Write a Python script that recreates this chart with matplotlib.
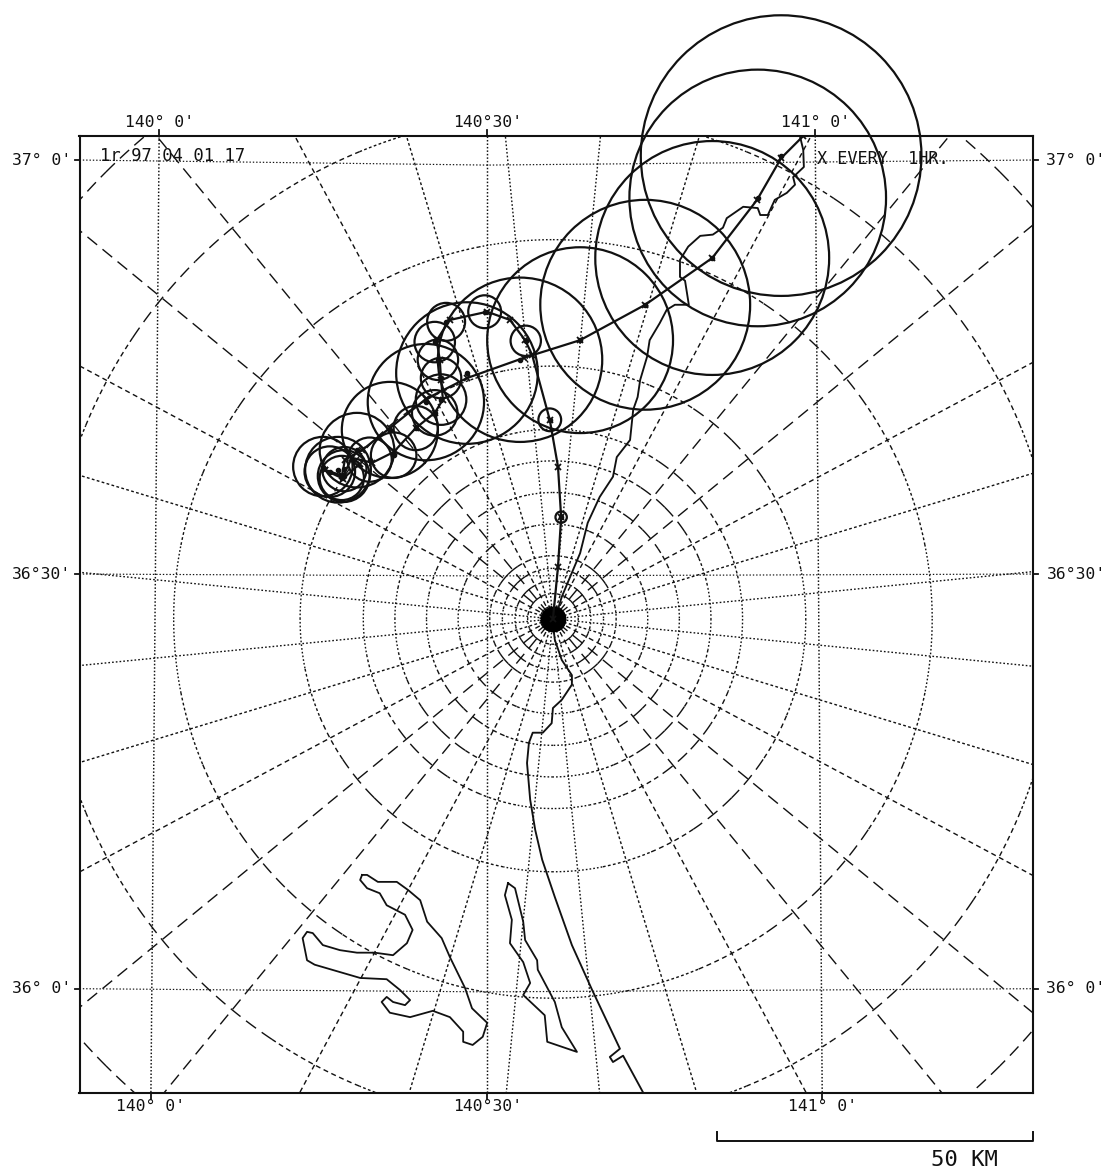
import numpy as np
import matplotlib
matplotlib.use("Agg")
import matplotlib.pyplot as plt
from matplotlib.patches import Circle

# ---- data: everything in km east / north of the radar ----
ring_km = [2, 4, 6, 8, 10, 15, 20, 25, 30, 40, 60, 80, 100]
spoke_start_deg = 5.625
spoke_step_deg = 11.25
spoke_count = 32

lon_labels = ["140\u00b0 0'", "140\u00b030'", "141\u00b0 0'"]
lon_top_x = [-62.3, -10.4, 41.5]
lon_bot_x = [-63.6, -10.4, 42.6]
lat_labels = ["37\u00b0 0'", "36\u00b030'", "36\u00b0 0'"]
lat_edge_y = [72.6, 7.1, -58.5]
lat_mid_y = [71.8, 6.8, -59.0]
lat_mid_x = -10.4

track_a_x = [39.6, 36.1, 32.3, 25.2, 14.6, 4.3, -4.6, -13.6, -20.1, -25.8, -30.2, -32.9, -33.4, -36.0, -33.2, -30.6]
track_a_y = [76.4, 72.9, 66.3, 57.1, 49.7, 44.1, 41.3, 38.1, 34.8, 30.2, 26.7, 25.2, 22.6, 23.5, 22.2, 24.5]
track_b_x = [0.0, 0.8, 1.3, 0.8, -0.5, -3.3, -4.4, -6.8, -10.4, -16.3, -18.4, -17.9, -17.7, -17.4, -18.7, -21.7, -25.2, -28.6, -31.8, -33.2, -36.1]
track_b_y = [0.0, 8.2, 16.1, 24.1, 31.5, 41.8, 44.1, 47.3, 48.6, 47.3, 44.1, 41.0, 37.8, 34.7, 32.6, 30.2, 26.4, 24.7, 25.5, 22.6, 23.6]

cell_a_x = [36.1, 32.4, 25.2, 14.6, 4.3, -5.2, -13.6, -20.1, -25.8, -31.0, -34.0, -36.4, -33.1, -33.4, -35.3]
cell_a_y = [73.3, 66.6, 57.1, 49.7, 44.1, 41.0, 38.9, 34.3, 29.9, 26.7, 23.6, 24.1, 22.6, 22.3, 23.3]
cell_a_r = [22.2, 20.3, 18.5, 16.6, 14.7, 13.0, 11.2, 9.2, 7.6, 5.9, 5.2, 4.7, 4.1, 3.5, 4.0]
cell_b_x = [1.3, -0.5, -4.3, -10.8, -16.9, -18.7, -18.2, -17.7, -17.7, -18.7, -21.7, -25.2, -29.0, -33.0]
cell_b_y = [16.1, 31.5, 44.0, 48.6, 47.0, 43.8, 41.0, 38.1, 34.7, 32.6, 30.2, 25.9, 25.2, 23.7]
cell_b_r = [0.9, 1.8, 2.4, 2.6, 3.0, 3.2, 3.2, 3.2, 4.0, 3.6, 3.5, 3.6, 3.5, 3.5]

coast_x = [39.1, 39.6, 39.7, 38.0, 38.3, 37.0, 35.1, 34.0, 32.8, 32.4, 30.1, 27.5, 26.9, 25.3, 23.3, 21.4, 20.1, 20.1,
           20.9, 21.5, 19.3, 18.0, 16.9, 15.3, 14.9, 13.8, 13.4, 12.7, 12.2, 10.1, 9.5, 7.4, 5.5, 4.3, 2.7, 1.4, 0.6,
           0.0, 0.3, 1.4, 3.0, 3.0, 1.4, 0.0, -0.2, -1.6, -3.2, -3.8, -4.1, -3.6, -2.8, -1.7, 0.3, 3.0, 6.2, 10.6,
           9.0, 9.5, 11.1, 14.2]
coast_y = [76.3, 74.2, 71.5, 69.9, 68.7, 67.4, 66.3, 63.9, 63.9, 65.0, 65.2, 63.4, 61.9, 60.8, 60.6, 58.9, 56.8, 54.1,
           53.5, 49.7, 49.7, 48.9, 46.8, 44.1, 41.5, 37.8, 35.1, 33.1, 28.3, 25.6, 22.5, 19.3, 15.2, 10.4, 6.6, 3.5, 0.9,
           -0.9, -3.3, -6.5, -8.9, -10.4, -12.8, -14.1, -16.5, -18.0, -18.0, -19.6, -22.8, -28.6, -33.4, -38.1, -44.0,
           -51.6, -58.7, -68.0, -69.3, -70.1, -69.1, -74.8]

lake_west_x = [-30.2, -30.5, -29.4, -27.4, -26.3, -23.4, -22.2, -23.1, -25.3, -28.2, -31.0, -33.7, -36.4, -38.0, -38.9,
               -39.6, -38.9, -37.7, -30.5, -26.3, -24.2, -22.6, -23.4, -25.3, -26.3, -27.1, -25.8, -22.6, -19.0, -16.3,
               -14.2, -14.2, -12.7, -11.1, -10.4, -12.8, -13.9, -16.3, -17.6, -19.9, -21.0, -22.9, -24.7, -27.7, -29.4, -30.2]
lake_west_y = [-40.5, -41.3, -42.6, -43.4, -45.3, -46.8, -49.2, -51.3, -53.2, -52.8, -52.8, -52.4, -51.6, -49.7, -49.5,
               -50.5, -54.0, -54.7, -56.8, -57.0, -58.7, -60.3, -61.1, -60.6, -59.8, -60.6, -62.3, -63.0, -62.0, -63.0,
               -65.3, -66.9, -67.4, -66.1, -63.9, -61.6, -58.4, -53.5, -50.5, -47.9, -44.5, -42.9, -41.6, -41.6, -40.5, -40.5]
lake_east_x = [-7.1, -7.6, -6.5, -6.8, -4.7, -3.6, -4.7, -1.3, -0.9, 3.8, 1.4, 0.3, -2.4, -2.5, -4.4, -4.7, -6.0, -7.1]
lake_east_y = [-41.8, -43.7, -47.6, -51.3, -54.3, -57.6, -59.5, -62.7, -66.9, -68.5, -64.6, -60.6, -55.5, -54.0, -50.8, -47.9, -42.6, -41.8]

scale_km = 50

# ---- figure ----
W, H = 1106, 1169
plt.rcParams["lines.scale_dashes"] = False
plt.rcParams["font.family"] = ["DejaVu Sans Mono"]
fig = plt.figure(figsize=(W / 100, H / 100), dpi=100)
ax = fig.add_axes([79.5 / W, (H - 1093) / H, (1033 - 79.5) / W, (1093 - 136) / H])
ax.set_xlim(-74.9, 75.95)
ax.set_ylim(-75.0, 76.4)
ax.set_xticks([])
ax.set_yticks([])
for s in ax.spines.values():
    s.set_linewidth(1.5)
    s.set_color("#111111")
    s.set_zorder(6)

INK = "#111111"


def dash_for(az):
    a = az % 90
    a = min(a, 90 - a)
    if a < 11:
        return (0, (1.2, 1.5))
    if a < 22:
        return (0, (2.0, 1.7))
    if a < 33:
        return (0, (3.6, 2.6))
    return (0, (9.0, 5.0))


# radial spokes
for k in range(spoke_count):
    az = spoke_start_deg + k * spoke_step_deg
    t = np.deg2rad(az)
    ax.plot([np.sin(t), 150 * np.sin(t)], [np.cos(t), 150 * np.cos(t)],
            color=INK, lw=1.0, ls=dash_for(az), zorder=1)

# range rings, drawn sector by sector so the dash follows the azimuth
for r in ring_km:
    for k in range(spoke_count):
        az0 = k * spoke_step_deg
        th = np.deg2rad(np.linspace(az0, az0 + spoke_step_deg, 24))
        ax.plot(r * np.sin(th), r * np.cos(th), color=INK, lw=1.0,
                ls=dash_for(az0 + spoke_step_deg / 2), zorder=1)

# radar position
ax.plot([0], [0], "o", ms=17.5, color="black", zorder=3)

# graticule
for xt, xb in zip(lon_top_x, lon_bot_x):
    ax.plot([xt, xb], [76.4, -75.0], color=INK, lw=1.05, ls=(0, (1.1, 1.4)), zorder=1)
for ye, ym in zip(lat_edge_y, lat_mid_y):
    ax.plot([-74.9, lat_mid_x, 75.95], [ye, ym, ye], color=INK, lw=0.85, ls=(0, (1.0, 1.4)), zorder=1)

# ticks
for xt, xb in zip(lon_top_x, lon_bot_x):
    ax.plot([xt, xt], [76.4, 77.3], color=INK, lw=1.3, clip_on=False)
    ax.plot([xb, xb], [-75.0, -76.0], color=INK, lw=1.3, clip_on=False)
for ye in lat_edge_y:
    ax.plot([-75.6, -74.9], [ye, ye], color=INK, lw=1.3, clip_on=False)
    ax.plot([75.95, 76.7], [ye, ye], color=INK, lw=1.3, clip_on=False)

# coast and lakes
ax.plot(coast_x, coast_y, color=INK, lw=1.35, zorder=2)
ax.plot(lake_west_x, lake_west_y, color=INK, lw=1.3, zorder=2)
ax.plot(lake_east_x, lake_east_y, color=INK, lw=1.3, zorder=2)

# tracks and cells
for xs, ys in ((track_a_x, track_a_y), (track_b_x, track_b_y)):
    ax.plot(xs, ys, color=INK, lw=1.6, zorder=4, marker="x", ms=3.8, mew=1.3)
for xs, ys, rs in ((cell_a_x, cell_a_y, cell_a_r), (cell_b_x, cell_b_y, cell_b_r)):
    for x, y, r in zip(xs, ys, rs):
        ax.add_patch(Circle((x, y), r, fill=False, ec=INK, lw=1.6, clip_on=False, zorder=4))
        ax.plot([x], [y], "o", ms=3.0, color=INK, zorder=4)

# labels
lab = dict(fontsize=11.8, color=INK, ha="center", va="center", annotation_clip=False)
for s, xt, xb in zip(lon_labels, lon_top_x, lon_bot_x):
    ax.annotate(s, (xt, 76.4), xytext=(0, 9.4), textcoords="offset points", **lab)
    ax.annotate(s, (xb, -75.0), xytext=(0, -9.4), textcoords="offset points", **lab)
for s, y in zip(lat_labels, lat_edge_y):
    ax.annotate(s, (-74.9, y), xytext=(-27.5, 0), textcoords="offset points", **lab)
    ax.annotate(s, (75.95, y), xytext=(31, 0), textcoords="offset points", **lab)

ax.annotate("1r 97 04 01 17", (-71.6, 73.2), ha="left", va="center", fontsize=12.4, color=INK,
            annotation_clip=False, zorder=5)
ax.annotate("X EVERY  1HR.", (41.7, 72.7), ha="left", va="center", fontsize=12.2, color=INK,
            annotation_clip=False, zorder=5)

# scale bar
bar_right = 75.95
bar_y = -82.6
ax.plot([bar_right - scale_km, bar_right - scale_km, bar_right, bar_right],
        [bar_y + 1.4, bar_y, bar_y, bar_y + 1.4], color=INK, lw=1.4, clip_on=False)
ax.annotate("50 KM", (bar_right - 5.5, bar_y - 3.0), ha="right", va="center", fontsize=16, color=INK,
            annotation_clip=False)

fig.savefig("out.png", dpi=100, facecolor="white")
